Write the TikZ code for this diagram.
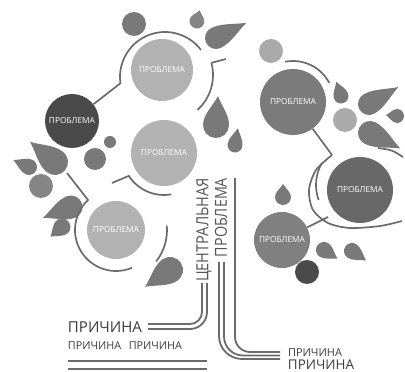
\documentclass[tikz,border=0pt]{standalone}
\usepackage{fontspec}
\setmainfont{Open Sans}
\usepackage{graphicx}

\definecolor{bubblelight}{HTML}{B2B2B2}
\definecolor{bubbledark}{HTML}{4A4A4A}
\definecolor{bubblemid}{HTML}{7B7B7B}
\definecolor{bubbledeep}{HTML}{686868}
\definecolor{bubblelow}{HTML}{808080}
\definecolor{leafgray}{HTML}{797979}
\definecolor{leaflight}{HTML}{858585}
\definecolor{dotlight}{HTML}{AAAAAA}
\definecolor{linegray}{HTML}{6B6B6B}
\definecolor{txtgray}{HTML}{3C3C3C}
\definecolor{trunktxt}{HTML}{555555}

% teardrop: fill, centre x, centre y, direction of the tip, tip distance, radius
\newcommand\leafshape[6]{%
  \fill[#1, shift={(#2,#3)}, rotate=#4]
    (#5,0) .. controls ({0.65*#5},{0.35*#6}) and ({0.35*#5},{#6}) .. (0,#6)
    arc[start angle=90, end angle=270, radius=#6]
    .. controls ({0.35*#5},{-#6}) and ({0.65*#5},{-0.35*#6}) .. cycle;}

\newcommand\problabel{\resizebox{46pt}{!}{ПРОБЛЕМА}}

\begin{document}
\begin{tikzpicture}[x=1pt, y=1pt,
  bubble/.style={circle, inner sep=0pt, text=white},
  dot/.style={circle, inner sep=0pt},
  ring/.style={draw=linegray, line width=1.7pt},
  trunk/.style={draw=linegray, line width=1.8pt},
  label/.style={inner sep=0pt, text=txtgray}]
\useasboundingbox (0,0) rectangle (405,372);

% problem bubbles
\node[bubble, fill=bubblelight, minimum size=62pt] (p1) at (162,302) {\problabel};
\node[bubble, fill=bubbledark,  minimum size=54pt] (p2) at (72,251)  {\problabel};
\node[bubble, fill=bubblelight, minimum size=66pt] (p3) at (164,219) {\problabel};
\node[bubble, fill=bubblelight, minimum size=58pt] (p4) at (116,142) {\problabel};
\node[bubble, fill=bubblemid,   minimum size=66pt] (p5) at (293,270) {\problabel};
\node[bubble, fill=bubbledeep,  minimum size=66pt] (p6) at (360,182) {\problabel};
\node[bubble, fill=bubblelow,   minimum size=56pt] (p7) at (282,132) {\problabel};

% small round berries
\node[dot, fill=leafgray,    minimum size=24pt] (s1) at (134,348) {};
\node[dot, fill=dotlight,    minimum size=24pt] (s2) at (271,321) {};
\node[dot, fill=dotlight,    minimum size=24pt] (s3) at (345,252) {};
\node[dot, fill=leafgray,    minimum size=12pt] (s4) at (110,230) {};
\node[dot, fill=leafgray,    minimum size=22pt] (s5) at (95,213)  {};
\node[dot, fill=leaflight,   minimum size=24pt] (s6) at (41,186)  {};
\node[dot, fill=bubbledark,  minimum size=24pt] (s7) at (307,100) {};

% leaves and drops
\leafshape{leaflight}{197}{351}{76}{11}{7.5}
\leafshape{leafgray}{216}{334}{26.6}{34}{11}
\leafshape{leafgray}{216}{247}{86}{29}{13}
\leafshape{leafgray}{235}{227}{80}{17}{7.5}
\leafshape{leafgray}{341}{276}{108}{15}{7.5}
\leafshape{leafgray}{369}{268}{30}{34}{11}
\leafshape{leafgray}{397}{256}{175}{11}{7}
\leafshape{leafgray}{370}{239}{-27}{34}{12}
\leafshape{leafgray}{283}{175}{90}{13}{8}
\leafshape{leafgray}{324}{122}{-33}{16}{8}
\leafshape{leafgray}{352}{121}{-34}{17}{8}
\leafshape{leafgray}{55}{210}{141}{32}{13}
\leafshape{leafgray}{29}{205}{156}{17}{8}
\leafshape{leafgray}{71}{165}{201}{30}{11.5}
\leafshape{leafgray}{62}{145}{220}{15}{8.5}
\leafshape{leafgray}{170}{102}{214}{30}{13}

% branches around the bubbles
\coordinate (ac1) at (165,295);
\coordinate (j1) at ([shift={(188:45)}]ac1);
\draw[ring] (p2) -- (j1) arc[start angle=188, end angle=37, radius=45];

\coordinate (ac2) at (166,297);
\coordinate (j2) at ([shift={(15:47)}]ac2);
\coordinate (t2) at (226,313);
\draw[ring] (j2) arc[start angle=15, end angle=-48, radius=47];
\draw[ring] (j2) -- (t2);

\draw[ring] ([shift={(101:41)}]p5.center) arc[start angle=101, end angle=28, radius=41];

\coordinate (j5) at (332,217);
\draw[ring] (p5) -- (j5);
\draw[ring] plot[smooth] coordinates {(332,217) (316,202) (309,182) (313,162) (328,149) (350,144) (380,146) (402,151)};

\coordinate (ac6) at (360,187);
\draw[ring] ([shift={(150:44)}]ac6) arc[start angle=150, end angle=200, radius=44];

\coordinate (j7) at (328,155);
\draw[ring] (p7) -- (j7);

\draw[ring] (378,224) .. controls (392,222) .. (403,215);

\coordinate (t9) at (112,189);
\coordinate (j9) at ([shift={(213:42)}]p3.center);
\draw[ring] (t9) -- (j9) arc[start angle=213, end angle=280, radius=42];

\coordinate (t10) at (67,199);
\coordinate (j10) at ([shift={(133:41)}]p4.center);
\draw[ring] (t10) -- (j10) arc[start angle=133, end angle=293, radius=41];

\draw[ring] ([shift={(5:51)}]p4.center) arc[start angle=5, end angle=-38, radius=51];

% trunk texts
\node[label, text=trunktxt, rotate=90] (ct) at (204,142) {\resizebox{104pt}{12pt}{ЦЕНТРАЛЬНАЯ}};
\node[label, text=trunktxt, rotate=90] (cp) at (221,154.5) {\resizebox{79pt}{12pt}{ПРОБЛЕМА}};

% causes
\node[label] (r1) at (105,45) {\resizebox{74pt}{!}{ПРИЧИНА}};
\node[label] (r2) at (125,26) {\resizebox{114pt}{!}{ПРИЧИНА\hspace{0.7em}ПРИЧИНА}};
\node[label] (r3) at (315,19) {\resizebox{54pt}{!}{ПРИЧИНА}};
\node[label] (r4) at (321,7.5) {\resizebox{66pt}{!}{ПРИЧИНА}};

% trunk lines running to the causes
\draw[trunk, rounded corners=12] (202,89) |- (148,48);
\draw[trunk, rounded corners=17] (207,89) |- (148,43);
\draw[trunk, rounded corners=15] (235,194) |- (280,20);
\draw[trunk, rounded corners=19] (224,110) |- (280,16.5);
\draw[trunk, rounded corners=23] (219,110) |- (280,13);
\draw[trunk] (68,11) -- (207,11);
\draw[trunk, line width=2.4pt] (68,3) -- (207,3);
\end{tikzpicture}
\end{document}
